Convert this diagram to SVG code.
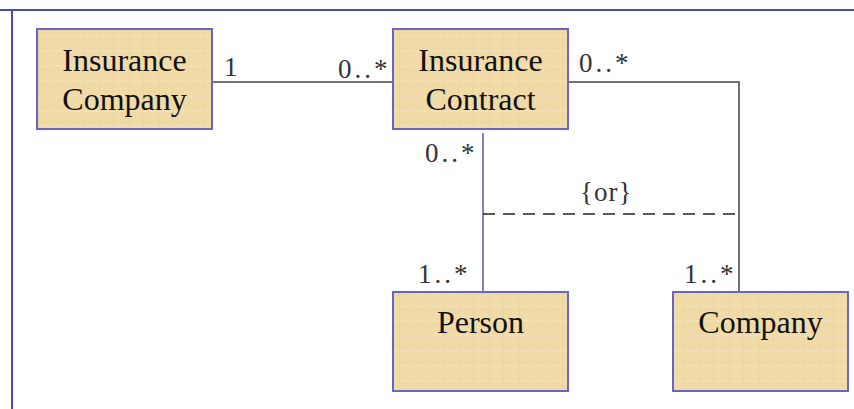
<svg xmlns="http://www.w3.org/2000/svg" width="854" height="409" viewBox="0 0 854 409">
<defs>
<pattern id="paper" width="30" height="30" patternUnits="userSpaceOnUse">
<rect width="30" height="30" fill="#F0DBA8"/>
<path d="M0 6H30M0 21H30" stroke="#F5E5BE" stroke-width="1.2"/>
<path d="M9 0V30M23 0V30" stroke="#EAD39B" stroke-width="0.8"/>
</pattern>
<style>
.box{fill:url(#paper);stroke:#6A66C0;stroke-width:2}
.t{font-family:'Liberation Serif','Times New Roman',serif;font-size:32px;fill:#111;text-anchor:middle}
.m{font-family:'Liberation Serif','Times New Roman',serif;font-size:27px;fill:#333;letter-spacing:3px}
.ln{fill:none;stroke:#444;stroke-width:1.5}
</style>
</defs>
<rect width="854" height="409" fill="#fff"/>
<path d="M0 10H854M12 10V409" fill="none" stroke="#4A4AA8" stroke-width="2"/>
<g id="connectors">
<path class="ln" d="M212 82H393"/>
<path class="ln" d="M568 82H739V292"/>
<path d="M483 133V292" fill="none" stroke="#5A56B8" stroke-width="1.5"/>
<path d="M483 214H739" fill="none" stroke="#222" stroke-width="1.5" stroke-dasharray="12,8"/>
<text class="m" x="224" y="76" font-family="Liberation Serif, serif">1</text>
<text class="m" x="338" y="78" font-family="Liberation Serif, serif">0..*</text>
<text class="m" x="579" y="72" font-family="Liberation Serif, serif">0..*</text>
<text class="m" x="425" y="162" font-family="Liberation Serif, serif">0..*</text>
<text class="m" x="580" y="201" font-family="Liberation Serif, serif" style="letter-spacing:1px">{or}</text>
<text class="m" x="418" y="283" font-family="Liberation Serif, serif">1..*</text>
<text class="m" x="684" y="283" font-family="Liberation Serif, serif">1..*</text>
</g>
<g id="insurance-company">
<rect class="box" x="37" y="29" width="175" height="100"/>
<text class="t" x="124.5" y="71" font-family="Liberation Serif, serif">Insurance</text>
<text class="t" x="124.5" y="110" font-family="Liberation Serif, serif">Company</text>
</g>
<g id="insurance-contract">
<rect class="box" x="393" y="29" width="175" height="100"/>
<text class="t" x="480.5" y="71" font-family="Liberation Serif, serif">Insurance</text>
<text class="t" x="480.5" y="110" font-family="Liberation Serif, serif">Contract</text>
</g>
<g id="person">
<rect class="box" x="393" y="292" width="175" height="99"/>
<text class="t" x="480.5" y="333" font-family="Liberation Serif, serif">Person</text>
</g>
<g id="company">
<rect class="box" x="673" y="292" width="175" height="99"/>
<text class="t" x="760.5" y="333" font-family="Liberation Serif, serif">Company</text>
</g>
</svg>
